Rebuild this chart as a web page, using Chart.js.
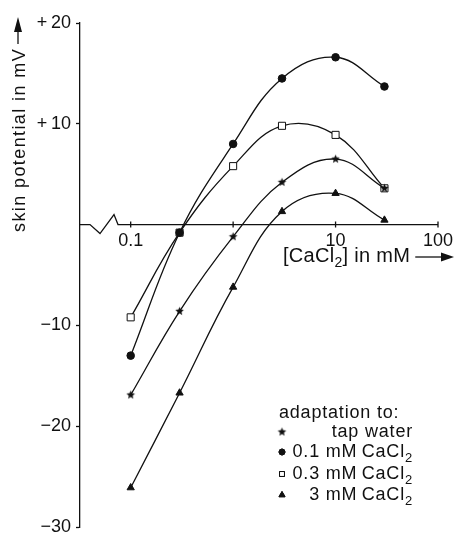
<!DOCTYPE html>
<html>
<head>
<meta charset="utf-8">
<script src="https://cdn.jsdelivr.net/npm/chart.js@4.4.1/dist/chart.umd.min.js"></script>
<style>
  html, body { margin: 0; padding: 0; background: #fff; }
  #wrap { width: 455px; height: 533px; }
</style>
</head>
<body>
<div id="wrap"><canvas id="chart"></canvas></div>
<script>
// values (mV against mM CaCl2)
const concentrations = [0.1, 0.3, 1, 3, 10, 30];
const tapWater = [-16.9, -8.6, -1.2, 4.2, 6.5, 3.6];
const adapt01 = [-13.0, -0.8, 8.0, 14.5, 16.6, 13.7];
const adapt03 = [-9.2, -0.8, 5.8, 9.8, 8.9, 3.6];
const adapt3 = [-26.1, -16.7, -6.2, 1.3, 3.1, 0.45];

const yTicks = [-30, -20, -10, 0, 10, 20];
const xTicks = [0.1, 1, 10, 100];
const xTickLabels = ["0.1", "", "10", "100"];
const legendTitle = "adaptation to:";
const legendLabels = [["tap water", ""], ["0.1 mM\u2009CaCl", "2"], ["0.3 mM\u2009CaCl", "2"], ["3 mM\u2009CaCl", "2"]];

const INK = "#111";
const FONT = "'Liberation Sans', Arial, sans-serif";

function starImage(r) {
  const c = document.createElement("canvas");
  const s = Math.ceil(r * 2) + 2;
  c.width = c.height = s;
  const g = c.getContext("2d");
  g.fillStyle = INK;
  g.beginPath();
  for (let i = 0; i < 10; i++) {
    const a = -Math.PI / 2 + i * Math.PI / 5;
    const rr = i % 2 ? r * 0.45 : r;
    g.lineTo(s / 2 + rr * Math.cos(a), s / 2 + rr * Math.sin(a));
  }
  g.closePath();
  g.fill();
  return c;
}
const star = starImage(4.5);

function series(label, values, style, radius, fill) {
  return {
    label,
    data: concentrations.map((x, i) => ({ x, y: values[i] })),
    borderColor: INK,
    borderWidth: 1.3,
    tension: 0.4,
    pointStyle: style,
    pointRadius: radius,
    pointBackgroundColor: fill,
    pointBorderColor: INK,
    pointBorderWidth: 1
  };
}

const datasets = [
  series("tap water", tapWater, star, 4.5, INK),
  series("0.1 mM CaCl2", adapt01, "circle", 3.8, INK),
  series("3 mM CaCl2", adapt3, "triangle", 4.2, INK),
  series("0.3 mM CaCl2", adapt03, "rect", 5, "#fff")
];
const legendMarkers = [[star, 3.5, INK], ["circle", 3, INK], ["rect", 3.5, "#fff"], ["triangle", 3.5, INK]];

function textParts(ctx, parts, x, y, align, size) {
  const main = size + "px " + FONT, sub = Math.round(size * 0.7) + "px " + FONT;
  const w = parts.map((t, i) => { ctx.font = i % 2 ? sub : main; return ctx.measureText(t).width; });
  let cx = align === "right" ? x - w.reduce((a, b) => a + b, 0) : x;
  parts.forEach((t, i) => {
    ctx.font = i % 2 ? sub : main;
    ctx.fillText(t, cx, i % 2 ? y + 5 : y);
    cx += w[i];
  });
  return cx;
}

const decorations = {
  id: "decorations",
  afterDraw(chart) {
    const { ctx, chartArea: area, scales: { x, y } } = chart;
    const y0 = y.getPixelForValue(0);
    ctx.save();
    ctx.strokeStyle = INK;
    ctx.fillStyle = INK;
    ctx.lineWidth = 1.3;

    // x axis at zero with a break near the origin
    ctx.beginPath();
    ctx.moveTo(area.left, y0);
    ctx.lineTo(area.left + 10, y0);
    ctx.lineTo(area.left + 20, y0 + 9);
    ctx.lineTo(area.left + 34, y0 - 10);
    ctx.lineTo(area.left + 38, y0);
    ctx.lineTo(x.getPixelForValue(100), y0);
    xTicks.forEach(v => {
      const px = x.getPixelForValue(v);
      ctx.moveTo(px, y0 - 3);
      ctx.lineTo(px, y0 + 3);
    });
    ctx.stroke();

    ctx.textBaseline = "alphabetic";

    // x title with arrow
    ctx.letterSpacing = "0.3px";
    const endX = textParts(ctx, ["[CaCl", "2", "] in mM"], 283, 262, "left", 20);
    ctx.beginPath();
    ctx.moveTo(endX + 5, 257);
    ctx.lineTo(444, 257);
    ctx.stroke();
    ctx.beginPath();
    ctx.moveTo(454, 257);
    ctx.lineTo(441, 252.5);
    ctx.lineTo(441, 261.5);
    ctx.closePath();
    ctx.fill();

    // y title with arrow
    ctx.save();
    ctx.translate(25, 232);
    ctx.rotate(-Math.PI / 2);
    ctx.letterSpacing = "1.4px";
    ctx.font = "18px " + FONT;
    const tw = ctx.measureText("skin potential in mV").width;
    ctx.fillText("skin potential in mV", 0, 0);
    ctx.beginPath();
    ctx.moveTo(tw + 4, -7);
    ctx.lineTo(200, -7);
    ctx.stroke();
    ctx.beginPath();
    ctx.moveTo(215, -7);
    ctx.lineTo(200, -11);
    ctx.lineTo(200, -3);
    ctx.closePath();
    ctx.fill();
    ctx.restore();

    // legend
    ctx.letterSpacing = "0.8px";
    ctx.font = "18px " + FONT;
    ctx.fillText(legendTitle, 279, 418);
    const rows = [437, 457, 479, 500];
    legendLabels.forEach((parts, i) => {
      textParts(ctx, parts, 413, rows[i], "right", 18);
      const [style, r, fill] = legendMarkers[i];
      ctx.fillStyle = fill;
      ctx.lineWidth = 1;
      Chart.helpers.drawPoint(ctx, { pointStyle: style, radius: r, borderWidth: 1 }, 282, rows[i] - 5);
      if (style !== star) ctx.stroke();
      ctx.fillStyle = INK;
    });
    ctx.restore();
  }
};

new Chart(document.getElementById("chart"), {
  type: "line",
  data: { datasets },
  plugins: [decorations],
  options: {
    responsive: true,
    maintainAspectRatio: false,
    animation: false,
    events: [],
    layout: { padding: { top: 23, bottom: 6, left: 0, right: 17 } },
    plugins: { legend: { display: false }, tooltip: { enabled: false } },
    scales: {
      x: {
        type: "logarithmic",
        min: 0.032,
        max: 100,
        position: { y: 0 },
        afterBuildTicks: s => { s.ticks = xTicks.map(v => ({ value: v })); },
        afterFit: s => { s.paddingLeft = 0; s.paddingRight = 0; },
        ticks: {
          callback: (v, i) => xTickLabels[i],
          autoSkip: false,
          maxRotation: 0,
          color: INK,
          padding: -2,
          font: { family: FONT, size: 18 }
        },
        grid: { display: false },
        border: { display: false }
      },
      y: {
        min: -30,
        max: 20,
        afterBuildTicks: s => { s.ticks = yTicks.map(v => ({ value: v })); },
        afterFit: s => { s.width = 80; s.paddingTop = 0; s.paddingBottom = 0; },
        ticks: {
          callback: v => v === 0 ? "" : (v > 0 ? "+\u2009" + v : "\u2212" + Math.abs(v)),
          color: INK,
          padding: 5,
          font: { family: FONT, size: 18 }
        },
        grid: {
          drawOnChartArea: false,
          tickLength: 4,
          tickWidth: 1.3,
          color: c => (c.tick && c.tick.value === 0) ? "rgba(0,0,0,0)" : INK
        },
        border: { color: INK, width: 1.3 }
      }
    }
  }
});
</script>
</body>
</html>
